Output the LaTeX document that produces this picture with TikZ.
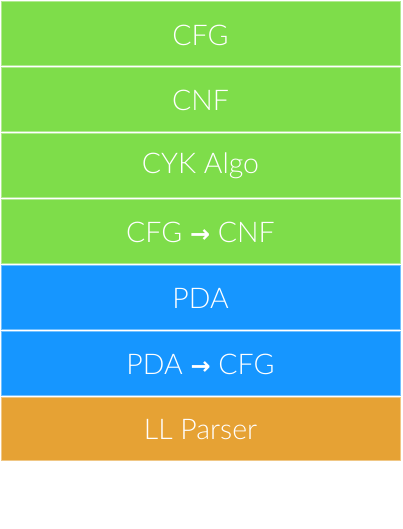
\documentclass[tikz,border=0pt]{standalone}
\usepackage{fontspec}
\setmainfont{Lato}[UprightFont=* Light]
\newfontfamily\arrowfont{DejaVu Sans}
\definecolor{cgreen}{RGB}{126,221,74}
\definecolor{cblue}{RGB}{22,150,255}
\definecolor{corange}{RGB}{230,162,52}
\tikzset{
  layer/.style={fill=#1, draw=#1!60!white, line width=1pt},
  lbl/.style={text=white, font=\fontsize{28.5}{33}\selectfont, anchor=center}
}
\newcommand{\arr}{{\arrowfont\bfseries\fontsize{24}{28}\selectfont →}}
\begin{document}
\begin{tikzpicture}[x=1pt,y=-1pt]
\useasboundingbox (0,0) rectangle (403,529);
\fill[white] (0,0) rectangle (403,529);
\draw[layer=cgreen] (1.5,1.5) rectangle (400,65.5);
\node[lbl] (n1) at (200.5,35) {CFG};
\draw[layer=cgreen] (1.5,67.5) rectangle (400,131.5);
\node[lbl] (n2) at (200.5,100) {CNF};
\draw[layer=cgreen] (1.5,133.5) rectangle (400,197.5);
\node[lbl] (n3) at (200.5,166) {CYK Algo};
\draw[layer=cgreen] (1.5,199.5) rectangle (400,263.5);
\node[lbl] (n4) at (200.5,232) {CFG \arr\ CNF};
\draw[layer=cblue] (1.5,265.5) rectangle (400,329.5);
\node[lbl] (n5) at (200.5,298) {PDA};
\draw[layer=cblue] (1.5,331.5) rectangle (400,395.5);
\node[lbl] (n6) at (200.5,364) {PDA \arr\ CFG};
\draw[layer=corange] (1.5,397.5) rectangle (400,460.5);
\node[lbl] (n7) at (200.5,430) {LL Parser};
\end{tikzpicture}
\end{document}
